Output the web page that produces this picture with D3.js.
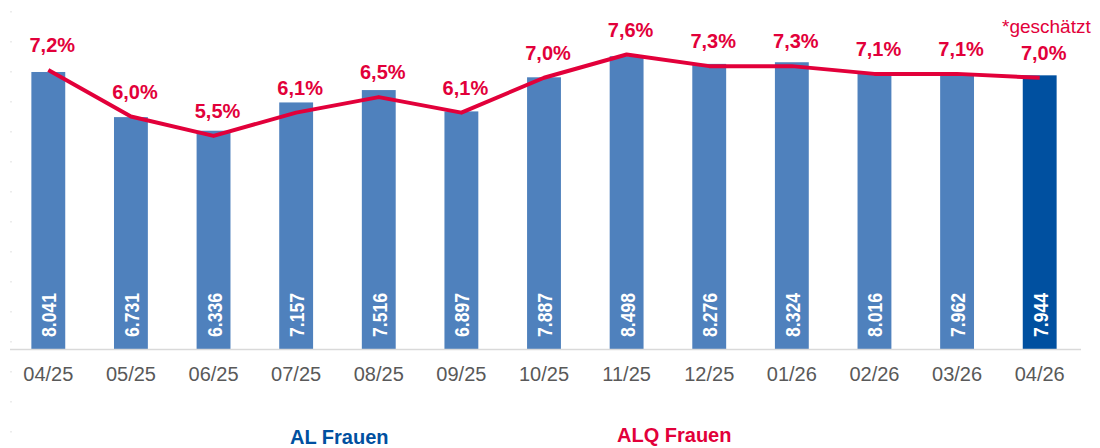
<!DOCTYPE html>
<html><head><meta charset="utf-8">
<script src="https://cdn.jsdelivr.net/npm/d3@7"></script>
<style>
html,body{margin:0;padding:0;background:#fff;}
svg{display:block;font-family:"Liberation Sans",Arial,sans-serif;}
</style></head>
<body>
<svg id="chart" width="1100" height="448"></svg>
<script>
const categories = ["04/25","05/25","06/25","07/25","08/25","09/25","10/25","11/25","12/25","01/26","02/26","03/26","04/26"];
const alFrauen = [8041,6731,6336,7157,7516,6897,7887,8498,8276,8324,8016,7962,7944];
const alqFrauen = [7.2,6.0,5.5,6.1,6.5,6.1,7.0,7.6,7.3,7.3,7.1,7.1,7.0];
const alqLabels = ["7,2%","6,0%","5,5%","6,1%","6,5%","6,1%","7,0%","7,6%","7,3%","7,3%","7,1%","7,1%","7,0%"];
const alLabels = ["8.041","6.731","6.336","7.157","7.516","6.897","7.887","8.498","8.276","8.324","8.016","7.962","7.944"];
const estimatedIndex = 12;
const legendNames = ["AL Frauen","ALQ Frauen"];
const noteText = "*geschätzt";

const BLUE = "#4f81bd", DARK = "#0050a0", RED = "#e2003a", GRAY = "#595959";
const svg = d3.select("#chart");

const x = d3.scaleBand().domain(categories).range([7,1081]).paddingInner(0.59).paddingOuter(0.295);
const y = d3.scaleLinear().domain([0,10000]).range([349,4.5]);
const y2 = d3.scaleLinear().domain([0,9]).range([349,0.25]);

// faint hidden-axis ticks on the left
svg.append("g").selectAll("rect").data(d3.range(15)).join("rect")
  .attr("x",10).attr("y",d=>11+30*d).attr("width",2).attr("height",1.5).attr("fill","#ececec");

// bars
svg.append("g").selectAll("rect").data(categories).join("rect")
  .attr("x",d=>x(d)).attr("width",x.bandwidth())
  .attr("y",(d,i)=>y(alFrauen[i])).attr("height",(d,i)=>y(0)-y(alFrauen[i]))
  .attr("fill",(d,i)=>i===estimatedIndex?DARK:BLUE);

// x axis line
svg.append("line").attr("x1",10).attr("x2",1081).attr("y1",y(0)+0.5).attr("y2",y(0)+0.5)
  .attr("stroke","#d9d9d9").attr("stroke-width",1.5);

// x axis via d3.axisBottom
const xAxis = svg.append("g").attr("transform",`translate(0,${y(0)})`)
  .call(d3.axisBottom(x).tickSize(0).tickPadding(18));
xAxis.select(".domain").remove();
xAxis.selectAll("text").attr("font-size",20).attr("fill",GRAY)
  .attr("font-family","'Liberation Sans',Arial,sans-serif").attr("dy","0.71em");

// bar value labels (rotated)
svg.append("g").selectAll("text").data(categories).join("text")
  .attr("transform",d=>`translate(${x(d)+x.bandwidth()/2+8},${y(0)-12}) rotate(-90)`)
  .attr("font-size",20).attr("font-weight","bold").attr("fill","#fff")
  .attr("textLength",44).attr("lengthAdjust","spacingAndGlyphs")
  .text((d,i)=>alLabels[i]);

// line
const line = d3.line().x((d,i)=>x(categories[i])+x.bandwidth()/2).y(d=>y2(d));
svg.append("path").datum(alqFrauen).attr("d",line)
  .attr("fill","none").attr("stroke",RED).attr("stroke-width",4).attr("stroke-linejoin","round");

// line labels
svg.append("g").selectAll("text").data(alqFrauen).join("text")
  .attr("x",(d,i)=>x(categories[i])+x.bandwidth()/2+4)
  .attr("y",d=>y2(d)-18)
  .attr("text-anchor","middle").attr("font-size",20).attr("font-weight","bold").attr("fill",RED)
  .text((d,i)=>alqLabels[i]);

// note
svg.append("text").attr("x",1002).attr("y",33).attr("font-size",19).attr("fill",RED).text(noteText);

// legend
svg.append("text").attr("x",290).attr("y",444).attr("font-size",20).attr("font-weight","bold").attr("fill",DARK).text(legendNames[0]);
svg.append("text").attr("x",617).attr("y",442).attr("font-size",20).attr("font-weight","bold").attr("fill",RED).text(legendNames[1]);
</script>
</body></html>
